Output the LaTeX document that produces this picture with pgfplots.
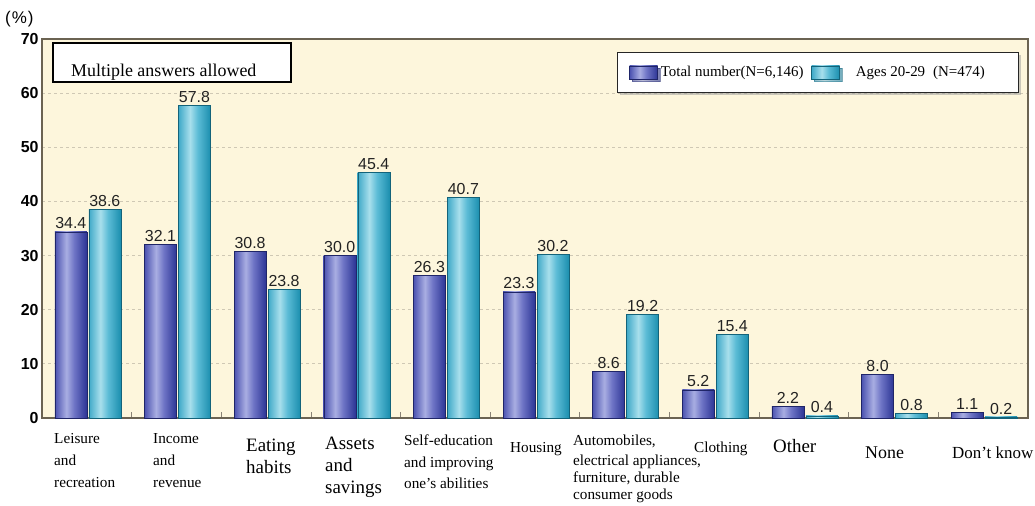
\documentclass[border=0pt]{standalone}
\usepackage{pgfplots}
\usepackage{pgfplotstable}
\pgfplotsset{compat=1.18}
\usepackage{fontspec}
\setmainfont{Liberation Serif}
\newfontfamily\arial{Liberation Sans}
\usetikzlibrary{shadows}
\definecolor{bgc}{HTML}{FDF6DC}
\definecolor{framec}{HTML}{6B6352}
\definecolor{gridc}{HTML}{CFC8B4}
\definecolor{txtc}{HTML}{222222}
\definecolor{bA}{HTML}{4B52B0}
\definecolor{bL}{HTML}{A9AEE2}
\definecolor{bM}{HTML}{6F75C6}
\definecolor{bD}{HTML}{2C3595}
\definecolor{cA}{HTML}{3FA9C8}
\definecolor{cL}{HTML}{A8DFEC}
\definecolor{cM}{HTML}{5CBCD6}
\definecolor{cD}{HTML}{1B8EAE}
\pgfdeclarehorizontalshading{blueshade}{100bp}{color(0bp)=(bA); color(25bp)=(bA); color(43bp)=(bL); color(55bp)=(bM); color(75bp)=(bD); color(100bp)=(bD)}
\pgfdeclarehorizontalshading{cyanshade}{100bp}{color(0bp)=(cA); color(25bp)=(cA); color(43bp)=(cL); color(55bp)=(cM); color(75bp)=(cD); color(100bp)=(cD)}
\pgfplotsset{
  mylegend/.style={/pgfplots/legend image code/.code={\draw[##1,line width=0.4bp] (0bp,-6.5bp) rectangle (28bp,6.5bp);}},
  bluebar/.style={shading=blueshade, draw=bD!70!black, line width=0.4bp, bar shift=-16bp},
  cyanbar/.style={shading=cyanshade, draw=cD!70!black, line width=0.4bp, bar shift=18bp},
}
\pgfplotstableread{
x t a
0 34.4 38.6
1 32.1 57.8
2 30.8 23.8
3 30.0 45.4
4 26.3 40.7
5 23.3 30.2
6 8.6 19.2
7 5.2 15.4
8 2.2 0.4
9 8.0 0.8
10 1.1 0.2
}\data
\newcommand\fA{\fontsize{15.3}{18}\selectfont}
\newcommand\fB{\fontsize{19}{22}\selectfont}
\newcommand\lab[4]{\node[anchor=base west, inner sep=0pt, font=#3, text=black] at ({(#1-42)*1bp},{(418-#2)*1bp}) {#4};}
\begin{document}
\begin{tikzpicture}
\path[use as bounding box] (-42bp,-88bp) rectangle (993bp,418bp);
\begin{axis}[
  at={(0,0)}, anchor=south west,
  scale only axis, width=986bp, height=379bp,
  ybar, bar width=32bp,
  xmin=-0.5, xmax=10.5, ymin=0, ymax=70,
  ytick={0,10,20,30,40,50,60,70},
  xtick={0.5,1.5,2.5,3.5,4.5,5.5,6.5,7.5,8.5,9.5}, xticklabels={},
  xtick pos=bottom, tick align=inside, major tick length=6bp,
  x tick style={draw=framec!80, line width=0.8bp},
  y tick style={draw=none},
  ymajorgrids, major grid style={draw=gridc, dash pattern=on 3bp off 3bp, line width=0.8bp},
  axis background/.style={fill=bgc},
  axis line style={draw=framec, line width=1.6bp},
  yticklabel style={font=\arial\bfseries\fontsize{16}{16}\selectfont, text=black},
  /pgf/number format/assume math mode=true,
  nodes near coords={\pgfmathprintnumber[fixed,fixed zerofill,precision=1]{\pgfplotspointmeta}},
  every node near coord/.append style={font=\arial\fontsize{16}{16}\selectfont, text=txtc, inner sep=2.5bp},
  legend columns=2,
  legend cell align=left,
  legend style={at={(0.583,0.966)}, anchor=north west, fill=white, draw=black!85, line width=1.2bp,
    font=\fontsize{15}{15}\selectfont, inner xsep=12bp, inner ysep=12bp,
    drop shadow={shadow xshift=2.5bp, shadow yshift=-2.5bp, fill=black!40},
    /tikz/every even column/.append style={column sep=6bp}},
  clip=false,
]
\addplot[bluebar, mylegend] table[x=x, y=t, restrict expr to domain={\coordindex}{0:0}] {\data};
\addlegendentry{\hspace*{1bp}Total number(N=6,146)}
\addplot[cyanbar, mylegend] table[x=x, y=a, restrict expr to domain={\coordindex}{0:0}] {\data};
\addlegendentry{\hspace*{14bp}Ages 20-29\hspace*{8bp}(N=474)\hspace*{20bp}}
\pgfplotsinvokeforeach{1,...,10}{
  \addplot[bluebar, forget plot] table[x=x, y=t, restrict expr to domain={\coordindex}{#1:#1}] {\data};
  \addplot[cyanbar, forget plot] table[x=x, y=a, restrict expr to domain={\coordindex}{#1:#1}] {\data};
}
\end{axis}
% note box
\draw[line width=1.8bp, fill=white] (11bp,375bp) rectangle (249bp,336bp);
\node[anchor=base west, inner sep=0pt, font=\fontsize{18}{18}\selectfont] at (29bp,341bp) {Multiple answers allowed};
% unit
\node[anchor=base west, inner sep=0pt, font=\arial\fontsize{17}{17}\selectfont] at (-37bp,394bp) {(\kern1bp\%\kern1bp)};
% category labels
\lab{54}{443}{\fA}{Leisure}
\lab{54}{465}{\fA}{and}
\lab{54}{487}{\fA}{recreation}
\lab{153}{443}{\fA}{Income}
\lab{153}{465}{\fA}{and}
\lab{153}{487}{\fA}{revenue}
\lab{246}{451}{\fB}{Eating}
\lab{246}{473}{\fB}{habits}
\lab{325}{449}{\fB}{Assets}
\lab{325}{471}{\fB}{and}
\lab{325}{493}{\fB}{savings}
\lab{404}{445}{\fA}{Self-education}
\lab{404}{467}{\fA}{and improving}
\lab{404}{488}{\fA}{one’s abilities}
\lab{510}{452}{\fA}{Housing}
\lab{573}{445}{\fA}{Automobiles,}
\lab{573}{465}{\fA}{electrical appliances,}
\lab{573}{482}{\fA}{furniture, durable}
\lab{573}{499}{\fA}{consumer goods}
\lab{694}{452}{\fA}{Clothing}
\lab{773}{452}{\fB}{Other}
\lab{865}{458}{\fontsize{18}{18}\selectfont}{None}
\lab{952}{458}{\fontsize{17}{17}\selectfont}{Don’t know}
\end{tikzpicture}
\end{document}
